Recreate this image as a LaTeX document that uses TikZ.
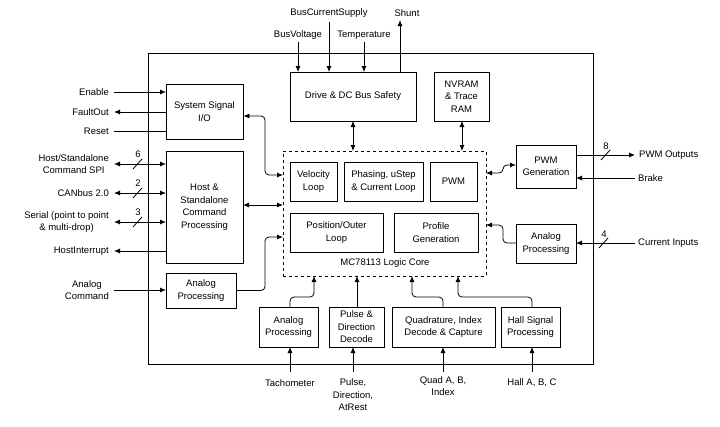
\documentclass[tikz,border=0pt]{standalone}
\usepackage{fontspec}
\setmainfont{Liberation Sans}
\usetikzlibrary{arrows.meta}
\begin{document}
\begin{tikzpicture}[x=1pt,y=-1pt,
  every node/.style={font=\fontsize{9.5}{12.5}\selectfont, align=center, inner sep=1pt},
  box/.style={draw, thick, minimum width=#1},
  ar/.style={-{Latex[length=6pt,width=5pt]}, thick},
  bar/.style={{Latex[length=6pt,width=5pt]}-{Latex[length=6pt,width=5pt]}, thick},
  lbl/.style={anchor=east},
  rc/.style={rounded corners=4pt}]
\useasboundingbox (0,0) rectangle (720,426);
\draw[thick] (148,53) rectangle (593,364);
% boxes
\node[draw,thick,minimum width=77pt,minimum height=55pt] (ssi) at (204.5,111.5) {System Signal\\I/O};
\node[draw,thick,minimum width=77pt,minimum height=112pt] (host) at (204.5,207) {Host \&\\Standalone\\Command\\Processing};
\node[draw,thick,minimum width=70pt,minimum height=35pt] (lap) at (201,290.5) {Analog\\Processing};
\node[draw,thick,dashed,minimum width=203pt,minimum height=125pt] (core) at (384.5,213.5) {};
\node (corel) at (385,263) {MC78113 Logic Core};
\node[draw,thick,minimum width=47pt,minimum height=39pt] (vel) at (313.5,181.5) {Velocity\\Loop};
\node[draw,thick,minimum width=79pt,minimum height=39pt] (pha) at (383.5,181.5) {Phasing, uStep\\\& Current Loop};
\node[draw,thick,minimum width=47pt,minimum height=39pt] (pwm) at (453.5,181.5) {PWM};
\node[draw,thick,minimum width=93pt,minimum height=39pt] (pos) at (336.5,232.5) {Position/Outer\\Loop};
\node[draw,thick,minimum width=84pt,minimum height=39pt] (prof) at (436,232.5) {Profile\\Generation};
\node[draw,thick,minimum width=126pt,minimum height=49pt] (drv) at (353,96.5) {Drive \& DC Bus Safety};
\node[draw,thick,minimum width=55pt,minimum height=49pt] (nv) at (461.5,96.5) {NVRAM\\\& Trace\\RAM};
\node[draw,thick,minimum width=60pt,minimum height=43pt] (pwg) at (546,166.5) {PWM\\Generation};
\node[draw,thick,minimum width=60pt,minimum height=39pt] (rap) at (546,243.5) {Analog\\Processing};
\node[draw,thick,minimum width=59pt,minimum height=40pt] (bap) at (288.5,327) {Analog\\Processing};
\node[draw,thick,minimum width=55pt,minimum height=40pt] (pul) at (356.5,327) {Pulse \&\\Direction\\Decode};
\node[draw,thick,minimum width=103pt,minimum height=40pt] (quad) at (443.5,327) {Quadrature, Index\\Decode \& Capture};
\node[draw,thick,minimum width=59pt,minimum height=40pt] (hall) at (530.5,327) {Hall Signal\\Processing};
% left signals
\node[lbl] (en) at (110,92) {Enable};
\node[lbl] (fo) at (110,112) {FaultOut};
\node[lbl] (rs) at (110,131) {Reset};
\node[lbl] (spi) at (110,164) {Host/Standalone\\Command SPI};
\node[lbl] (can) at (110,193) {CANbus 2.0};
\node[lbl] (ser) at (110,222) {Serial (point to point\\\& multi-drop)};
\node[lbl] (hi) at (110,251) {HostInterrupt};
\node[lbl] (ac) at (110,290) {Analog\\Command};
\draw[ar] (114,92) -- (166,92);
\draw[ar] (166,112) -- (114,112);
\draw[thick] (114,131) -- (166,131);
\draw[bar] (114,164) -- (166,164);
\draw[bar] (114,193) -- (166,193);
\draw[bar] (114,222) -- (166,222);
\draw[ar] (166,251) -- (114,251);
\draw[ar] (114,290) -- (166,290);
\foreach \y/\n in {164/6,193/2,222/3}{
  \draw[thick] (133,\y+5) -- (142,\y-5);
  \node at (138,\y-10) {\n};}
% left to core
\draw[bar,rc] (ssi.east|-0,116) -- (265,116) -- (265,175) -- (283,175);
\draw[bar] (243,205) -- (283,205);
\draw[ar,rc] (lap.east) -- (265,290.5) -- (265,237) -- (283,237);
% top
\node (bv) at (298,35) {BusVoltage};
\node (bcs) at (329,13) {BusCurrentSupply};
\node (tmp) at (364,35) {Temperature};
\node (sh) at (407,13) {Shunt};
\draw[ar] (298,42) -- (298,72);
\draw[ar] (329,22) -- (329,72);
\draw[ar] (364,42) -- (364,72);
\draw[ar] (400,72) -- (400,20);
\draw[bar] (353,121) -- (353,151);
\draw[bar] (462,121) -- (462,151);
% right
\node[anchor=west] (po) at (638,155) {PWM Outputs};
\node[anchor=west] (br) at (637,178) {Brake};
\node[anchor=west] (ci) at (637,243) {Current Inputs};
\draw[ar] (576,155) -- (635,155);
\draw[thick] (601,160) -- (610,150); \node at (606,146) {8};
\draw[ar] (635,178) -- (576,178);
\draw[ar] (635,243) -- (576,243);
\draw[thick] (599,248) -- (608,238); \node at (604,234) {4};
\draw[bar,rc] (486,173) -- (503,173) -- (503,165) -- (516,165);
\draw[ar,rc] (516,243) -- (503,243) -- (503,225) -- (486,225);
% bottom
\draw[ar,rc] (290,307) -- (290,297) -- (314,297) -- (314,276);
\draw[ar] (357,307) -- (357,276);
\draw[ar,rc] (443,307) -- (443,297) -- (412,297) -- (412,276);
\draw[ar,rc] (532,307) -- (532,297) -- (458,297) -- (458,276);
\node (ta) at (290,383) {Tachometer};
\node (pd) at (353,395) {Pulse,\\Direction,\\AtRest};
\node (qa) at (443,386) {Quad A, B,\\Index};
\node (ha) at (532,383) {Hall A, B, C};
\draw[ar] (290,372) -- (290,347);
\draw[ar] (353,372) -- (353,347);
\draw[ar] (443,372) -- (443,347);
\draw[ar] (532,372) -- (532,347);
\end{tikzpicture}
\end{document}
